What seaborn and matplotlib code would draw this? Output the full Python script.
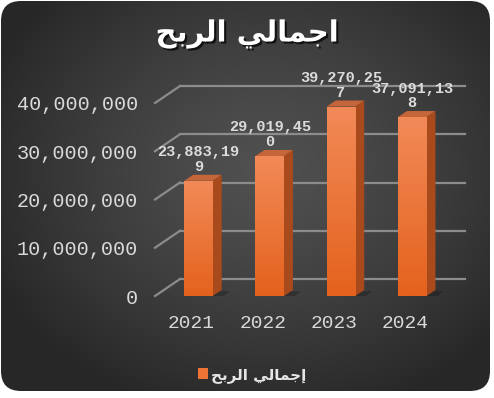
import numpy as np
import matplotlib
matplotlib.use("Agg")
import matplotlib.pyplot as plt
import seaborn as sns
import matplotlib.patheffects as pe
from matplotlib.patches import FancyBboxPatch, Polygon, Rectangle
from matplotlib.transforms import ScaledTranslation

years = ["2021", "2022", "2023", "2024"]
profit = [23883199, 29019450, 39270257, 37091138]
y_ticks = [0, 10000000, 20000000, 30000000, 40000000]
title_ar = "اجمالي الربح"
legend_ar = "إجمالي الربح"

# matplotlib has no arabic shaping, so pick the presentation forms by hand
FORMS = {
    'ا': ('\uFE8D', '\uFE8E', None, None),
    'إ': ('\uFE87', '\uFE88', None, None),
    'ج': ('\uFE9D', '\uFE9E', '\uFE9F', '\uFEA0'),
    'م': ('\uFEE1', '\uFEE2', '\uFEE3', '\uFEE4'),
    'ل': ('\uFEDD', '\uFEDE', '\uFEDF', '\uFEE0'),
    'ي': ('\uFEF1', '\uFEF2', '\uFEF3', '\uFEF4'),
    'ر': ('\uFEAD', '\uFEAE', None, None),
    'ب': ('\uFE8F', '\uFE90', '\uFE91', '\uFE92'),
    'ح': ('\uFEA1', '\uFEA2', '\uFEA3', '\uFEA4'),
}


def shape(text):
    out = []
    for i, c in enumerate(text):
        if c not in FORMS:
            out.append(c)
            continue
        iso, fin, ini, med = FORMS[c]
        prev_j = i > 0 and text[i - 1] in FORMS and FORMS[text[i - 1]][2] is not None
        next_j = i < len(text) - 1 and text[i + 1] in FORMS and ini is not None
        if prev_j and next_j:
            out.append(med)
        elif prev_j:
            out.append(fin)
        elif next_j:
            out.append(ini)
        else:
            out.append(iso)
    return "".join(out)[::-1]


W, H = 494, 398
fig = plt.figure(figsize=(W / 100, H / 100), dpi=100, facecolor="white")

# background card with radial gradient
bg = fig.add_axes([0, 0, 1, 1], zorder=-5)
bg.set_xlim(0, W)
bg.set_ylim(H, 0)
bg.axis("off")
yy, xx = np.mgrid[0:H, 0:W]
d = np.sqrt(((xx - 265) / 300) ** 2 + ((yy - 170) / 250) ** 2)
t = np.clip(d, 0, 1) ** 1.3
light = np.array([0.315, 0.315, 0.315])
dark = np.array([0.155, 0.155, 0.155])
img = light[None, None, :] * (1 - t[..., None]) + dark[None, None, :] * t[..., None]
card = FancyBboxPatch((1, 1), W - 5, H - 8, boxstyle="round,pad=0,rounding_size=20",
                      facecolor="none", edgecolor="none")
bg.add_patch(card)
im = bg.imshow(img, extent=(0, W, H, 0), aspect="auto")
im.set_clip_path(card)

# main plotting axes (front plane of the 3d chart)
left_px, right_px, bottom_px, top_px = 155, 440, 296, 103
ax = fig.add_axes([left_px / W, (H - bottom_px) / H,
                   (right_px - left_px) / W, (bottom_px - top_px) / H])
ax.patch.set_alpha(0)

xl, xr = -0.61, 3.39
ymax = 40000000
ux = (right_px - left_px) / (xr - xl)
uy = (bottom_px - top_px) / ymax

bar_color = "#ee7436"
sns.barplot(x=years, y=profit, ax=ax, width=0.4, color=bar_color, saturation=1, zorder=3)

# gridlines on back wall with slanted lead-in
gdx, gdy = 25 / ux, 17 / uy
x_end = xl + (465 - left_px) / ux
for v in y_ticks:
    ax.plot([xl, xl + gdx], [v, v + gdy], color="#8c8c8c", lw=1.6, clip_on=False, zorder=1)
    ax.plot([xl + gdx, x_end], [v + gdy, v + gdy], color="#8c8c8c", lw=1.6, clip_on=False, zorder=1)

# 3d faces of the bars
bdx, bdy = 9 / ux, 6 / uy
grad = np.linspace(0, 1, 100)[:, None]
bar_cmap = matplotlib.colors.LinearSegmentedColormap.from_list("bar", ["#f28a58", "#e4621d"])
for bar, v in zip(ax.patches, profit):
    x0 = bar.get_x()
    x1 = x0 + bar.get_width()
    h = bar.get_height()
    floor = Polygon([(x0 + 4 / ux, 0), (x1 + bdx + 2 / ux, 0), (x1 + bdx + 8 / ux, bdy * 0.8),
                     (x0 + 10 / ux, bdy * 0.8)], closed=True, facecolor="black", alpha=0.22,
                    edgecolor="none", zorder=2, clip_on=False)
    ax.add_patch(floor)
    side = Polygon([(x1, 0), (x1 + bdx, bdy), (x1 + bdx, h + bdy), (x1, h)], closed=True,
                   facecolor="#a84a1c", edgecolor="none", zorder=2.8, clip_on=False)
    top = Polygon([(x0, h), (x1, h), (x1 + bdx, h + bdy), (x0 + bdx, h + bdy)], closed=True,
                  facecolor="#c4653a", edgecolor="none", zorder=2.8, clip_on=False)
    ax.add_patch(side)
    ax.add_patch(top)
    gi = ax.imshow(grad, extent=(x0, x1, 0, h), aspect="auto", origin="upper",
                   cmap=bar_cmap, zorder=3.5)
    gi.set_clip_path(bar)

    txt = f"{v:,}"
    txt = txt[:9] + "\n" + txt[9:]
    ax.annotate(txt, (x0 + bar.get_width() / 2, h), xytext=(0, 5), textcoords="offset points",
                ha="center", va="bottom", fontsize=11, fontweight="bold",
                family="Liberation Mono", color="#dcdcdc", linespacing=1.05, zorder=6,
                annotation_clip=False)

ax.set_xlim(xl, xr)
ax.set_ylim(0, ymax)
ax.set_xlabel("")
ax.set_ylabel("")
for s in ax.spines.values():
    s.set_visible(False)

ax.set_yticks(y_ticks, labels=[f"{v:,}" for v in y_ticks])
ax.set_xticks(range(len(years)), labels=years)
ax.tick_params(axis="y", length=0, pad=12, labelsize=14.5, labelcolor="#d9d9d9")
ax.tick_params(axis="x", length=0, pad=14, labelsize=14, labelcolor="#d9d9d9")
for lab in ax.get_yticklabels() + ax.get_xticklabels():
    lab.set_fontfamily("Liberation Mono")
for lab in ax.get_xticklabels():
    lab.set_transform(lab.get_transform() + ScaledTranslation(-7 / 100, 0, fig.dpi_scale_trans))

fig.text(0.5, 1 - 34 / H, shape(title_ar), ha="center", va="center", fontsize=21,
         fontweight="bold", color="white", family="DejaVu Sans",
         path_effects=[pe.withSimplePatchShadow(offset=(1.5, -1.5), shadow_rgbFace="black", alpha=0.7)])

handle = Rectangle((0, 0), 1, 1, facecolor=bar_color, edgecolor="none")
fig.legend([handle], [shape(legend_ar)], loc="center", bbox_to_anchor=(252 / W, 1 - 375 / H),
           frameon=False, labelcolor="#e6e6e6", handlelength=0.7, handleheight=0.7,
           handletextpad=0.2, prop={"family": "DejaVu Sans", "weight": "bold", "size": 11})

fig.savefig("out.png", dpi=100, facecolor="white")
